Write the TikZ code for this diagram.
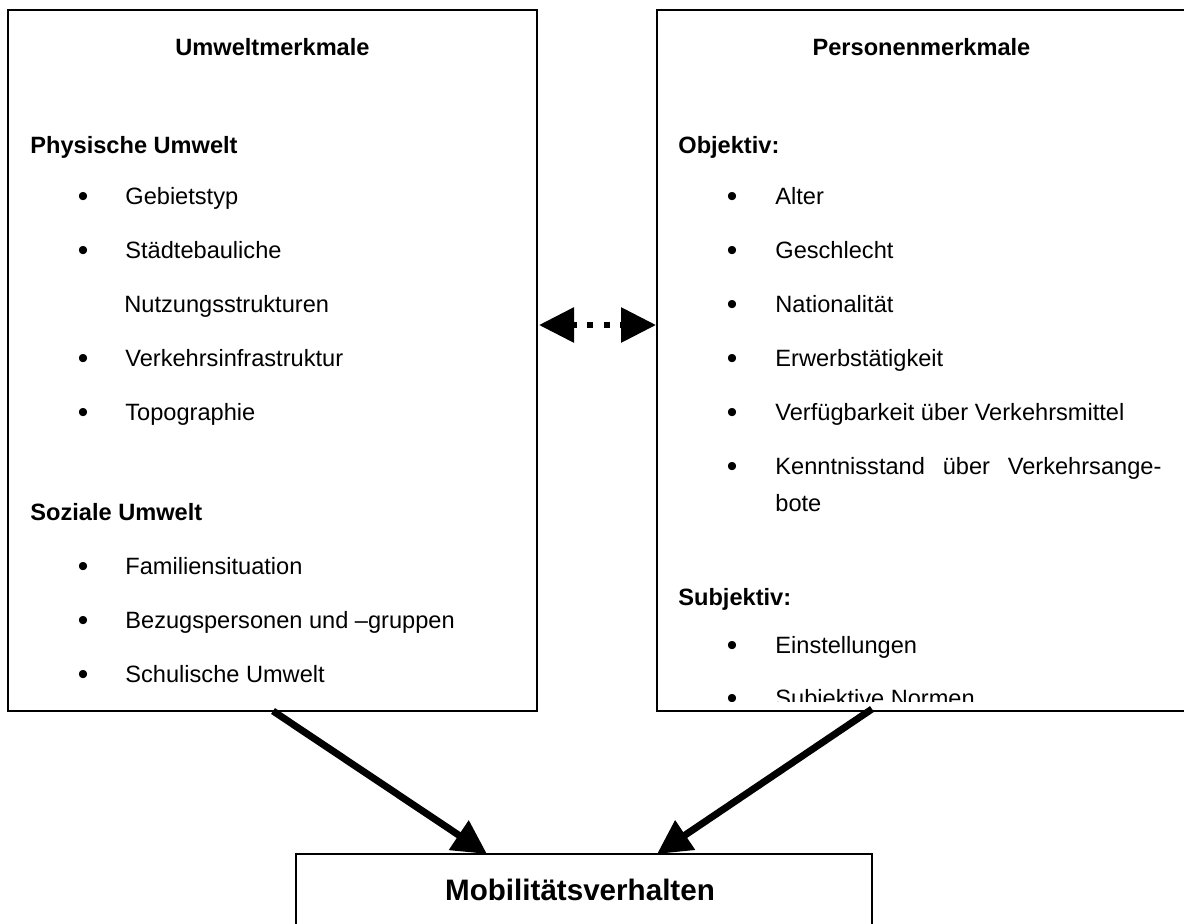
\documentclass[tikz,border=0pt]{standalone}
\usepackage{fontspec}
\setmainfont{Liberation Sans}
\usetikzlibrary{arrows.meta,calc}
\begin{document}
\begin{tikzpicture}[x=0.5pt,y=-0.5pt,
  box/.style={draw, line width=1pt, inner sep=0pt, outer sep=0pt, anchor=north west},
  head/.style={anchor=base, inner sep=0pt, font=\bfseries\fontsize{11.8}{14}\selectfont},
  sub/.style={anchor=base west, inner sep=0pt, font=\bfseries\fontsize{11.8}{14}\selectfont},
  item/.style={anchor=base west, inner sep=0pt, font=\fontsize{11.8}{14}\selectfont},
  bul/.style={anchor=base, inner sep=0pt, yshift=-1.2pt, font=\fontsize{15}{18}\selectfont},
  title/.style={anchor=base, inner sep=0pt, font=\bfseries\fontsize{14.8}{18}\selectfont},
  flow/.style={line width=3.5pt, -{Triangle[length=17pt,width=17pt]}},
  link/.style={line width=3pt, dash pattern=on 3pt off 5.3pt, dash phase=1pt,
    {Triangle[length=17.5pt,width=17pt]}-{Triangle[length=17.5pt,width=17pt]}}
]
\useasboundingbox (0,0) rectangle (1184,923);
\fill[white] (0,0) rectangle (1184,923);

% the three boxes
\node[box, minimum width=264.5pt, minimum height=350.5pt] (L) at (8,10) {};
\node[box, minimum width=264.5pt, minimum height=350.5pt] (R) at (657,10) {};
\node[box, minimum width=288pt, minimum height=70pt] (M) at (296,854) {};

% environment features
\node[head] (lh) at (272.5,55) {Umweltmerkmale};
\node[sub] (ls1) at (30,153) {Physische Umwelt};
\foreach \y/\t/\n in {204/Gebietstyp/1, 258/Städtebauliche/2, 366/Verkehrsinfrastruktur/4, 420/Topographie/5}{
  \node[bul] (lb\n) at (83,\y) {•};
  \node[item] (li\n) at (125,\y) {\t};
}
\node[item] (li3) at (124,312) {Nutzungsstrukturen};
\node[sub] (ls2) at (30,520) {Soziale Umwelt};
\foreach \y/\t/\n in {574/Familiensituation/6, 628/Bezugspersonen und –gruppen/7, 682/Schulische Umwelt/8}{
  \node[bul] (lb\n) at (83,\y) {•};
  \node[item] (li\n) at (125,\y) {\t};
}

% personal features (cut off at the lower border)
\begin{scope}
\clip (657,10) rectangle (1186,701);
\node[head] (rh) at (921.5,55) {Personenmerkmale};
\node[sub] (rs1) at (678,153) {Objektiv:};
\foreach \y/\t/\n in {204/Alter/1, 258/Geschlecht/2, 312/Nationalität/3, 366/Erwerbstätigkeit/4, 420/Verfügbarkeit über Verkehrsmittel/5}{
  \node[bul] (rb\n) at (732,\y) {•};
  \node[item] (ri\n) at (775,\y) {\t};
}
\node[bul] (rb6) at (732,474) {•};
\node[item] (ri6) at (775,474) {\hbox to 193pt{Kenntnisstand\hfill über\hfill Verkehrsange-}};
\node[item] (ri6b) at (775,511) {bote};
\node[sub] (rs2) at (678,605) {Subjektiv:};
\node[bul] (rb7) at (732,653) {•};
\node[item] (ri7) at (775,653) {Einstellungen};
\node[bul] (rb8) at (732,706) {•};
\node[item] (ri8) at (775,706) {Subjektive Normen};
\end{scope}

% outcome
\node[title] (mt) at (580,900) {Mobilitätsverhalten};

% connectors
\coordinate (dl) at ($(L.north east)+(2,315)$);
\coordinate (dr) at ($(R.north west)+(-1,315)$);
\draw[link] (dl) -- (dr);

\coordinate (fl) at ($(L.south west)+(265,0)$);
\coordinate (fr) at ($(R.south west)+(215,-2)$);
\coordinate (tl) at ($(M.north west)+(191,0)$);
\coordinate (tr) at ($(M.north west)+(361,0)$);
\draw[flow] (fl) -- (tl);
\draw[flow] (fr) -- (tr);
\end{tikzpicture}
\end{document}
